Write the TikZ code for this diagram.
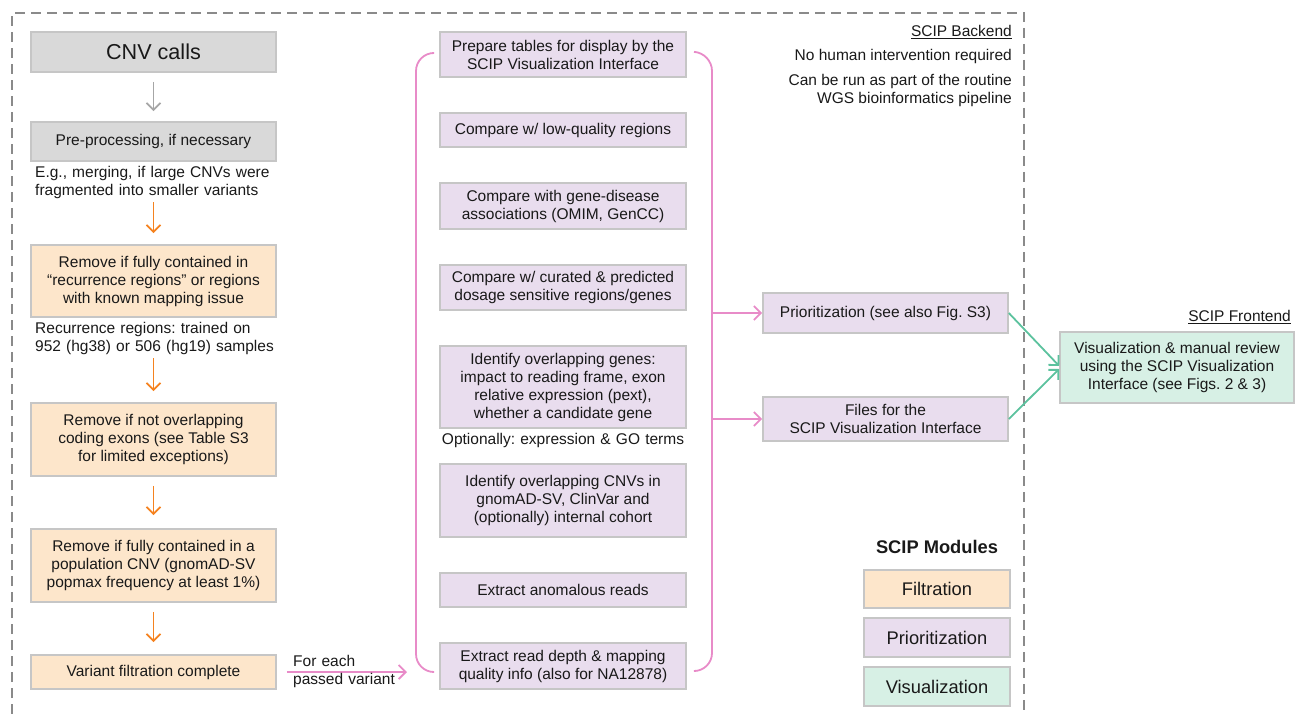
\documentclass[tikz,border=0pt]{standalone}
\usepackage{fontspec}
\setmainfont{Liberation Sans}
\usetikzlibrary{arrows.meta}
\frenchspacing
\definecolor{callfill}{HTML}{D9D9D9}
\definecolor{filtfill}{HTML}{FDE6CB}
\definecolor{priofill}{HTML}{E9DDEE}
\definecolor{visfill}{HTML}{D7F0E5}
\definecolor{boxline}{HTML}{C6C6C6}
\definecolor{orangeline}{HTML}{F5821F}
\definecolor{pinkline}{HTML}{E88BC8}
\definecolor{greenline}{HTML}{5CC29E}
\definecolor{frameline}{HTML}{8A8A8A}
\tikzset{
  box_n/.style = {rectangle, draw=boxline, line width=1.6pt, align=center,
    inner sep=0pt, text=black!90, font=\fontsize{15.5}{18}\selectfont},
  call_n/.style = {box_n, fill=callfill, minimum width=245pt},% input, grey
  filt_n/.style = {box_n, fill=filtfill, minimum width=245pt},% filtration
  prio_n/.style = {box_n, fill=priofill, minimum width=246pt},% prioritization
  vis_n/.style = {box_n, fill=visfill},% visualization
  key_n/.style = {box_n, minimum width=146pt,
    font=\fontsize{18.3}{20}\selectfont},% legend
  note_n/.style = {inner sep=0pt, align=left, text width=270pt, anchor=west,
    text=black!90, font=\fontsize{15.5}{18}\selectfont},% caption under a box
  side_n/.style = {inner sep=0pt, align=right, anchor=east,
    text=black!90, font=\fontsize{15.5}{18}\selectfont},% backend remarks
  grey_e/.style = {->, draw=gray!70, line width=1.8pt},
  orange_e/.style = {->, draw=orangeline, line width=1.8pt},
  pink_e/.style = {->, draw=pinkline, line width=1.8pt},
  green_e/.style = {->, draw=greenline, line width=1.8pt},
}

\begin{document}
\begin{tikzpicture}[x=1pt,y=-1pt,>={Straight Barb[length=7pt,width=14pt]}]
\useasboundingbox (0,0) rectangle (1295,714);

% frame of the backend
\draw[frameline, line width=1.8pt, dash pattern=on 10pt off 6pt]
  (12,714) -- (12,13) -- (1024,13) -- (1024,714);

% filtration column
\node [call_n, minimum height=40pt, font=\fontsize{21.6}{24}\selectfont]
  (cnv) at (153.5,52) {CNV calls};
\node [call_n, minimum height=39pt] (pre) at (153.5,141.5) {Pre-processing, if necessary};
\node [note_n] (merge) at (35,182) {E.g., merging, if large CNVs were\\
  fragmented into smaller variants};
\node [filt_n, minimum height=72pt] (recur) at (153.5,281) {Remove if fully contained in\\
  ``recurrence regions'' or regions\\ with known mapping issue};
\node [note_n] (train) at (35,338) {Recurrence regions: trained on\\
  952 (hg38) or 506 (hg19) samples};
\node [filt_n, minimum height=73pt] (exon) at (153.5,439.5) {Remove if not overlapping\\
  coding exons (see Table S3\\ for limited exceptions)};
\node [filt_n, minimum height=73pt] (popu) at (153.5,565.5) {Remove if fully contained in a\\
  population CNV (gnomAD-SV\\ popmax frequency at least 1\%)};
\node [filt_n, minimum height=34pt] (done) at (153.5,672) {Variant filtration complete};

\draw [grey_e, shorten <=9pt, shorten >=10pt] (cnv) -- (pre);
\draw [orange_e, shorten <=4pt, shorten >=11pt] (recur.north |- merge.south) -- (recur.north);
\draw [orange_e, shorten <=4pt, shorten >=11pt] (exon.north |- train.south) -- (exon.north);
\draw [orange_e, shorten <=9pt, shorten >=13pt] (exon) -- (popu);
\draw [orange_e, shorten <=9pt, shorten >=12pt] (popu) -- (done);

% prioritization modules
\node [prio_n, minimum height=45pt] (tab) at (563,54.5) {Prepare tables for display by the\\
  SCIP Visualization Interface};
\node [prio_n, minimum height=34pt] (lowq) at (563,130) {Compare w/ low-quality regions};
\node [prio_n, minimum height=46pt] (omim) at (563,206) {Compare with gene-disease\\
  associations (OMIM, GenCC)};
\node [prio_n, minimum height=45pt] (dose) at (563,287.5) {Compare w/ curated \& predicted\\
  dosage sensitive regions/genes};
\node [prio_n, minimum height=82pt] (gene) at (563,387) {Identify overlapping genes:\\
  impact to reading frame, exon\\ relative expression (pext),\\ whether a candidate gene};
\node [note_n, anchor=center, align=center, text width=260pt] (goterm) at (563,440)
  {Optionally: expression \& GO terms};
\node [prio_n, minimum height=73pt] (ovl) at (563,500.5) {Identify overlapping CNVs in\\
  gnomAD-SV, ClinVar and\\ (optionally) internal cohort};
\node [prio_n, minimum height=34pt] (anom) at (563,590) {Extract anomalous reads};
\node [prio_n, minimum height=46pt] (depth) at (563,666) {Extract read depth \& mapping\\
  quality info (also for NA12878)};

% bracket round the modules
\coordinate (brL) at (416,53);
\coordinate (brR) at (712,53);
\draw [pinkline, line width=1.8pt, rounded corners=18pt]
  (432,53) -- (brL) -- (416,672) -- (432,672);
\draw [pinkline, line width=1.8pt, rounded corners=18pt]
  (696,52) -- (brR) -- (712,671) -- (696,671);

\draw [pink_e, shorten <=10pt, shorten >=9pt] (done.east) -- (brL |- done.east);
\node [note_n, text width=110pt] (each) at (293,671.5) {For each\\ passed variant};

% outputs of the backend
\node [prio_n, minimum width=245pt, minimum height=40pt] (prio) at (885.5,313)
  {Prioritization (see also Fig. S3)};
\node [prio_n, minimum width=245pt, minimum height=44pt] (files) at (885.5,419)
  {Files for the\\ SCIP Visualization Interface};
\draw [pink_e] (brR |- prio.west) -- (prio.west);
\draw [pink_e] (brR |- files.west) -- (files.west);

\node [side_n] (backend) at (1012,32) {\underline{SCIP Backend}};
\node [side_n] (human) at (1012,56) {No human intervention required};
\node [side_n] (routine) at (1012,90) {Can be run as part of the routine\\
  WGS bioinformatics pipeline};

% frontend
\node [side_n] (frontend) at (1291,317) {\underline{SCIP Frontend}};
\node [vis_n, minimum width=234pt, minimum height=71pt] (view) at (1177,367.5)
  {Visualization \& manual review\\ using the SCIP Visualization\\
  Interface (see Figs. 2 \& 3)};
\draw [green_e] (prio.east) -- ([yshift=1.5pt]view.west);
\draw [green_e] (files.east) -- ([yshift=-1.5pt]view.west);

% legend
\node [inner sep=0pt, text=black!90, font=\fontsize{18.3}{20}\bfseries\selectfont]
  (modules) at (937,547) {SCIP Modules};
\node [key_n, fill=filtfill, minimum height=38pt] (k_filt) at (937,589) {Filtration};
\node [key_n, fill=priofill, minimum height=39pt] (k_prio) at (937,637.5) {Prioritization};
\node [key_n, fill=visfill, minimum height=39pt] (k_vis) at (937,686.5) {Visualization};
\end{tikzpicture}
\end{document}
